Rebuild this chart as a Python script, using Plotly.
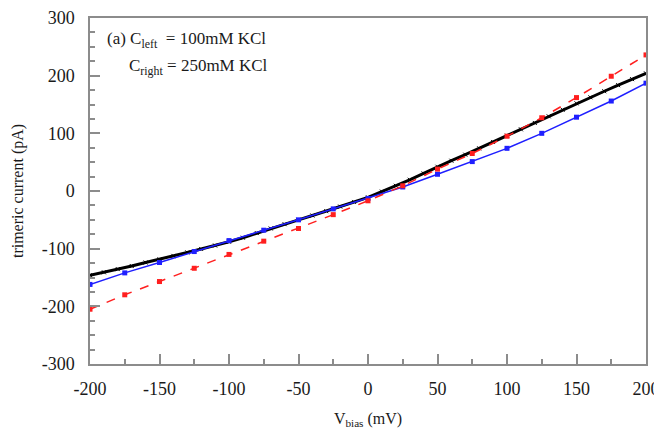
import plotly.graph_objects as go

# Data
v_marker = [-200, -175, -150, -125, -100, -75, -50, -25, 0, 25, 50, 75, 100, 125, 150, 175, 200]
blue_current = [-162, -142, -124, -105, -86, -68, -50, -31, -13, 7, 29, 51, 74, 100, 128, 156, 187]
red_current = [-205, -180, -157, -134, -110, -87, -65, -41, -17, 9, 38, 65, 95, 127, 162, 199, 236]

v_black = [-200, -190, -180, -170, -160, -150, -140, -130, -120, -110, -100,
           -90, -80, -70, -60, -50, -40, -30, -20, -10, 0,
           10, 20, 30, 40, 50, 60, 70, 80, 90, 100,
           110, 120, 130, 140, 150, 160, 170, 180, 190, 200]
black_current = [-146, -141, -135.5, -130, -124, -118.5, -112.5, -106.5, -100.5, -94.5, -88,
                 -81, -73, -65, -57.5, -50, -42.5, -35, -27, -19, -11,
                 -1, 9, 19.5, 30.5, 42, 52.5, 63, 74, 85, 96,
                 107, 118, 129.5, 141, 152, 162.5, 173, 183.5, 194, 204]

x_ticks = [-200, -150, -100, -50, 0, 50, 100, 150, 200]
x_ticktext = ["-200", "-150", "-100", "-50", "0", "50", "100", "150", "200"]
y_ticks = [-300, -200, -100, 0, 100, 200, 300]
y_ticktext = ["-300", "-200", "-100", "0", "100", "200", "300"]

font_family = "Liberation Serif"
axis_color = "#8c8c8c"
text_color = "#1a1a1a"

fig = go.Figure()
fig.add_trace(go.Scatter(
    x=v_black, y=black_current, mode="lines+markers",
    line=dict(color="black", width=3),
    marker=dict(symbol="x-thin", size=4, color="black", line=dict(color="black", width=1)),
    showlegend=False))
fig.add_trace(go.Scatter(
    x=v_marker, y=blue_current, mode="lines+markers",
    line=dict(color="#1f1fff", width=1.5),
    marker=dict(symbol="square", size=5, color="#1f1fff"),
    showlegend=False))
fig.add_trace(go.Scatter(
    x=v_marker, y=red_current, mode="lines+markers",
    line=dict(color="#ff1f1f", width=1.5, dash="dash"),
    marker=dict(symbol="square", size=5, color="#ff1f1f"),
    showlegend=False))

axis_common = dict(
    showline=True, linecolor=axis_color, linewidth=1.5, mirror=True,
    ticks="inside", ticklen=10, tickcolor=axis_color, tickwidth=1.5,
    showgrid=False, zeroline=False, ticklabeloverflow="allow", automargin=False,
    tickfont=dict(family=font_family, size=18, color=text_color),
)

fig.update_xaxes(
    range=[-200, 200], tickmode="array", tickvals=x_ticks, ticktext=x_ticktext,
    ticklabelstandoff=8,
    minor=dict(ticks="inside", ticklen=5, dtick=25, tick0=0, tickcolor=axis_color, tickwidth=1.5),
    title=dict(text="V<sub>bias</sub> (mV)", font=dict(family=font_family, size=16, color=text_color), standoff=14),
    **axis_common)
fig.update_yaxes(
    range=[-300, 300], tickmode="array", tickvals=y_ticks, ticktext=y_ticktext,
    ticklabelstandoff=10,
    minor=dict(ticks="inside", ticklen=5, dtick=25, tick0=0, tickcolor=axis_color, tickwidth=1.5),
    title=dict(text="trimeric current (pA)", font=dict(family=font_family, size=16, color=text_color), standoff=14),
    **axis_common)

fig.add_annotation(xref="paper", yref="paper", x=0.027, y=0.936, xanchor="left", yanchor="middle",
                   text="(a) C<sub>left</sub>  = 100mM KCl", showarrow=False,
                   font=dict(family=font_family, size=17, color=text_color))
fig.add_annotation(xref="paper", yref="paper", x=0.066, y=0.858, xanchor="left", yanchor="middle",
                   text="C<sub>right</sub> = 250mM KCl", showarrow=False,
                   font=dict(family=font_family, size=17, color=text_color))

fig.update_layout(
    width=654, height=434,
    margin=dict(l=90, r=8, t=18, b=70, autoexpand=False),
    plot_bgcolor="white", paper_bgcolor="white",
)

fig.write_html(
    "out.html",
    config={"displayModeBar": False},
    post_script="document.body.style.margin='0';document.body.style.overflow='hidden';",
)
